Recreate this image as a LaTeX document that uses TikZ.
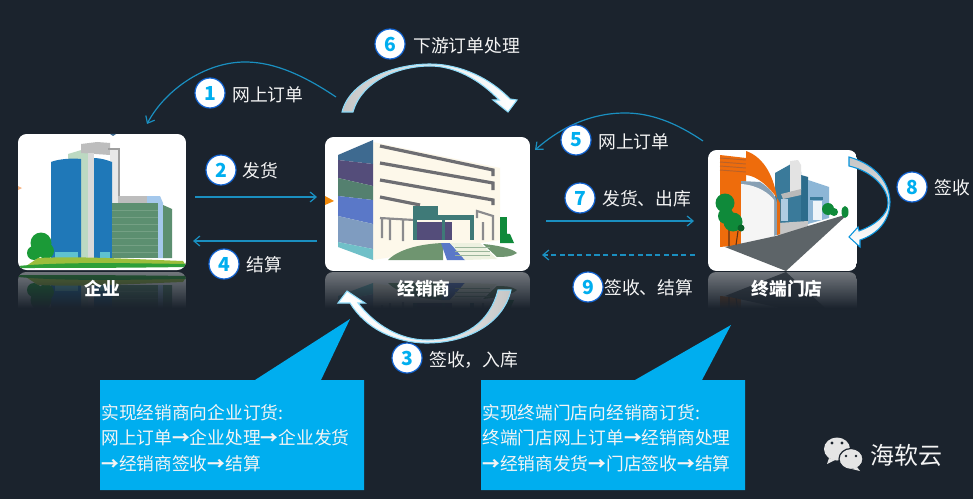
\documentclass[tikz,border=0pt]{standalone}
\usepackage{fontspec}
\setmainfont{Noto Sans CJK SC}
\usetikzlibrary{arrows.meta,calc}
\definecolor{bgc}{HTML}{1B232D}
\definecolor{linec}{HTML}{1A8FC0}
\definecolor{callc}{HTML}{00AEEF}
\definecolor{txtc}{HTML}{F4F4F4}
\newcommand{\rarr}{{\bfseries →}}
\tikzset{
  px/.style={x=0.75pt,y=-0.75pt},
  thin arrow/.style={draw=linec,line width=0.9pt,-{Straight Barb[length=4.5pt,width=7.5pt]}},
  badge/.style={circle,fill=white,draw=linec!70!blue,line width=0.9pt,minimum size=22.5pt,inner sep=0pt,text=callc,font=\bfseries\fontsize{14.5pt}{15pt}\selectfont},
  lab/.style={anchor=west,inner sep=0pt,text=txtc,font=\fontsize{13.35pt}{15pt}\selectfont},
  cardlab/.style={inner sep=0pt,text=white,font=\bfseries\fontsize{13.3pt}{15pt}\selectfont},
  callout/.style={fill=callc,draw=none},
  calltext/.style={anchor=north west,inner sep=0pt,align=left,text=txtc,font=\fontsize{13.3pt}{19.1pt}\selectfont},
  bigarrow/.style={draw=#1,line width=0.8pt,line join=miter},
}
% ---- building 1
\newcommand{\bldA}{%
  \fill[white] (18,134) rectangle (186,271);
  \fill[HTML3] (68,154) -- (88,148) -- (88,258) -- (68,258) -- cycle;
  \fill[HTML4] (81,144) -- (97,142) -- (110,143) -- (110,155) -- (81,153) -- cycle;
  \draw[draw=gray!75,line width=1pt] (108,149) -- (119,149) -- (119,203);
  \fill[gray!18] (110,150) rectangle (118,203);
  \fill[HTML1] (51,162) .. controls (58,159) and (72,158) .. (81,159) -- (81,258) -- (51,258) -- cycle;
  \fill[HTML2] (55,252) rectangle (78,258);
  \fill[gray!30] (88,153) rectangle (94,258);
  \fill[HTML1] (94,158) .. controls (100,158) and (107,160) .. (112,162) -- (112,258) -- (94,258) -- cycle;
  \fill[HTML2] (100,252) rectangle (110,258);
  \fill[HTML4] (118,196) rectangle (147,203);
  \fill[HTML5] (147,196) -- (160,196) -- (163,203) -- (163,258) -- (158,258) -- (158,203) -- (147,203) -- cycle;
  \fill[HTML6] (112,203) rectangle (158,258);
  \foreach \yy in {210,217,...,252}{\draw[HTML7,line width=0.6pt] (112,\yy) -- (158,\yy);}
  \fill[HTML6] (163,205) -- (172,209) -- (172,258) -- (163,258) -- cycle;
  \fill[HTML8] (41,243) circle[radius=10.5];
  \fill[HTML8] (34,253) circle[radius=7];
  \fill[HTML8] (46,251) circle[radius=8];
  \fill[HTML9] (26,266) -- (38,258) .. controls (80,256) and (130,259) .. (183,261) -- (186,266) -- cycle;
  \fill[HTML8!85!HTML9] (18,266) .. controls (60,262) and (120,263) .. (186,264) -- (186,267) .. controls (120,268) and (60,268) .. (18,268) -- cycle;
}
% ---- building 2
\newcommand{\bldB}{%
  \fill[white] (325,137) rectangle (530,271);
  \fill[cream] (373,142) -- (500,168) -- (500,240) -- (373,260) -- cycle;
  \fill[bandA] (338,155) -- (373,140) -- (373,164) -- (338,160) -- cycle;
  \fill[bandB] (338,160) -- (373,164) -- (373,186) -- (338,178) -- cycle;
  \fill[bandC] (338,178) -- (373,186) -- (373,200) -- (338,196) -- cycle;
  \fill[bandD] (338,196) -- (373,200) -- (373,224) -- (338,216) -- cycle;
  \fill[bandE] (338,216) -- (373,224) -- (373,249) -- (338,242) -- cycle;
  \fill[bandF] (338,242) -- (373,249) -- (373,260) -- (338,247) -- cycle;
  \draw[wallg,line width=2.4pt] (380,146) -- (493,170) -- (493,176);
  \draw[wallg,line width=2.4pt] (380,163) -- (493,183) -- (493,190);
  \draw[wallg,line width=2.4pt] (380,180) -- (493,200) -- (493,205);
  \draw[wallg,line width=2.4pt] (380,197) -- (420,205);
  \draw[wallg!80,line width=1.6pt] (380,218) -- (414,220) (390,218) -- (390,240) (403,219) -- (403,241) (382,218) -- (382,238);
  \draw[wallg!80,line width=1.6pt] (477,218) -- (477,211) -- (493,216) -- (493,240) (483,222) -- (483,240);
  \fill[bandB] (417,222) rectangle (452,240);
  \fill[tealb] (413,206) rectangle (438,217);
  \fill[tealb] (417,215) rectangle (474,220);
  \fill[tealb] (413,217) rectangle (417,240);
  \fill[tealb] (442,217) rectangle (445,240);
  \fill[tealb] (470,217) rectangle (474,240);
  \fill[groundg] (388,260) .. controls (398,250) and (418,244) .. (443,243) -- (443,260) -- cycle;
  \fill[groundg] (483,244) .. controls (495,245) and (512,248) .. (517,253) .. controls (512,257) and (503,257) .. (497,257) -- cycle;
  \fill[bandD] (441,243) -- (450,243) -- (465,260) -- (447,260) -- cycle;
  \fill[stair] (450,243) -- (480,243) -- (497,259) -- (465,260) -- cycle;
  \foreach \yy in {247,251,255}{\draw[groundg!70,line width=0.6pt] (455,\yy) -- (490,\yy);}
  \fill[treeg] (500,217) rectangle (507,240);
  \fill[treeg] (500,233) -- (510,234) -- (514,243) -- (500,243) -- cycle;
}
% ---- building 3
\newcommand{\bldC}{%
  \fill[white] (708,150) rectangle (857,271);
  \fill[orangeA] (720,155) -- (746,158) -- (746,185) -- (741,185) -- (741,245) -- (720,247) -- cycle;
  \foreach \yy in {158,162,166,170}{\draw[orangeB,line width=0.7pt] (720,\yy) -- (746,\yy+2);}
  % blue block
  \fill[blueA] (775,173) -- (791,164) -- (801,172) -- (801,222) -- (775,224) -- cycle;
  \fill[blueC] (801,175) -- (808,177) -- (808,224) -- (801,225) -- cycle;
  \fill[gray!22] (790,161) -- (798,160) -- (801,165) -- (801,190) -- (790,192) -- cycle;
  \fill[gray!55] (781,194) -- (801,189) -- (801,195) -- (783,199) -- cycle;
  \fill[blueB!70!white] (781,199) rectangle (788,221);
  % light-blue block
  \fill[blueB] (808,180) -- (829,187) -- (829,218) -- (808,224) -- cycle;
  \fill[blueA] (810,197) -- (823,197) -- (823,200) -- (810,200) -- cycle;
  \fill[white!85!blueB] (813,201) rectangle (822,220);
  \fill[gray!45] (778,223) -- (808,221) -- (808,226) -- (778,236) -- cycle;
  % door and arch
  \fill[blueB!60!gray] (741,181) -- (760,182) .. controls (770,188) and (776,196) .. (777,203) -- (777,235) -- (741,245) -- cycle;
  \fill[gray!8] (741,184) .. controls (758,185) and (770,194) .. (774,200) -- (774,236) -- (741,245) -- cycle;
  \fill[orangeA!80!orangeB] (777,198) -- (780,203) -- (780,234) -- (777,235) -- cycle;
  \fill[orangeA] (746,151) .. controls (761,156) and (773,172) .. (777,198) .. controls (770,188) and (758,176) .. (746,175) -- cycle;
  % road
  \fill[roadg] (725,247) -- (776,236) -- (808,226) -- (848,214) -- (786,271) -- cycle;
  % trees
  \draw[orangeB!50!black,line width=0.8pt] (729,230) -- (729,246) (738,231) -- (736,245);
  \fill[treeg] (725,203) circle[radius=9.5];
  \fill[treeg] (733,222) circle[radius=9.5];
  \fill[treeg] (726,216) circle[radius=8];
  \fill[treeg!70!black] (741,228) circle[radius=3.5];
  \fill[treeg] (828,209) circle[radius=6];
  \fill[treeg] (834,212) circle[radius=4];
  \fill[treeg] (845,212) ellipse[x radius=3.5,y radius=6];
}
\definecolor{HTML1}{HTML}{1F78B8}
\definecolor{HTML2}{HTML}{5FC2CF}
\definecolor{HTML3}{HTML}{BCD9C2}
\definecolor{HTML4}{HTML}{BDBDBD}
\definecolor{HTML5}{HTML}{A4C8EC}
\definecolor{HTML6}{HTML}{5C8F70}
\definecolor{HTML7}{HTML}{74A084}
\definecolor{HTML8}{HTML}{1B9A37}
\definecolor{HTML9}{HTML}{9CBE3C}
\definecolor{cream}{HTML}{FDF8EA}
\definecolor{bandA}{HTML}{3E6A90}
\definecolor{bandB}{HTML}{544D7A}
\definecolor{bandC}{HTML}{54806F}
\definecolor{bandD}{HTML}{5A78C8}
\definecolor{bandE}{HTML}{7F9CC0}
\definecolor{bandF}{HTML}{70C0C8}
\definecolor{wallg}{HTML}{6E6E72}
\definecolor{tealb}{HTML}{3F7A78}
\definecolor{groundg}{HTML}{6F9570}
\definecolor{stair}{HTML}{EDF1E0}
\definecolor{treeg}{HTML}{0F8A3A}
\definecolor{orangeA}{HTML}{EE6C0C}
\definecolor{orangeB}{HTML}{B9622A}
\definecolor{blueA}{HTML}{3A7A9A}
\definecolor{blueB}{HTML}{8DB6D6}
\definecolor{blueC}{HTML}{2C6C8C}
\definecolor{roadg}{HTML}{5D6468}
\begin{document}
\begin{tikzpicture}[px]
\useasboundingbox (0,0) rectangle (973,499);
\fill[bgc] (0,0) rectangle (973,499);

% ---- reflections
\begin{scope}
  \clip[rounded corners=6pt] (18,272) rectangle (186,320);
  \begin{scope}[shift={(0,543)},yscale=-1]\bldA\end{scope}
\end{scope}
\begin{scope}
  \clip[rounded corners=6pt] (325,272) rectangle (530,320);
  \begin{scope}[shift={(0,543)},yscale=-1]\bldB\end{scope}
\end{scope}
\begin{scope}
  \clip[rounded corners=6pt] (708,272) rectangle (857,320);
  \begin{scope}[shift={(0,543)},yscale=-1]\bldC\end{scope}
\end{scope}
\foreach \i in {0,...,38}{
  \pgfmathsetmacro{\op}{min(1,0.62+0.38*\i/36)}
  \fill[bgc,opacity=\op] (10,272+\i) rectangle (870,273+\i);
}
\fill[bgc] (10,310) rectangle (870,322);

% ---- cards
\begin{scope}
  \clip[rounded corners=6.5pt] (18,134) rectangle (186,270);
  \bldA
  \fill[orangeA!50] (18,186) -- (22,188) -- (18,190) -- cycle;
  \fill[bandA] (110,134) -- (116,134) -- (113,136) -- cycle;
\end{scope}
\begin{scope}
  \clip[rounded corners=6.5pt] (325,137) rectangle (530,271);
  \bldB
  \fill[orangeA!80!yellow] (325,196) -- (334,201) -- (325,205) -- cycle;
\end{scope}
\begin{scope}
  \clip[rounded corners=6.5pt] (708,150) rectangle (857,271);
  \bldC
\end{scope}
\node[minimum width=126pt,minimum height=102pt,inner sep=0pt] (qiye) at (102,202) {};
\node[minimum width=153.75pt,minimum height=100.5pt,inner sep=0pt] (jxs) at (427.5,204) {};
\node[minimum width=111.75pt,minimum height=90.75pt,inner sep=0pt] (md) at (782.5,210.5) {};

\node[cardlab] (lq) at (102,288) {企业};
\node[cardlab] (lj) at (424,289) {经销商};
\node[cardlab] (lm) at (787,289) {终端门店};

% ---- callouts
\fill[callout] (100,380) -- (255,380) -- (350,319) -- (321,380) -- (364,380) -- (364,490) -- (100,490) -- cycle;
\fill[callout] (481,380) -- (635,380) -- (731,325) -- (702,380) -- (745,380) -- (745,490) -- (481,490) -- cycle;
\node[calltext] (c1) at (101,404) {实现经销商向企业订货:\\网上订单\rarr 企业处理\rarr 企业发货\\\rarr 经销商签收\rarr 结算};
\node[calltext] (c2) at (482,404) {实现终端门店向经销商订货:\\终端门店网上订单\rarr 经销商处理\\\rarr 经销商发货\rarr 门店签收\rarr 结算};

% ---- thin connectors
\coordinate (a1s) at (336,97);  \coordinate (a1e) at (147,124);
\coordinate (a5s) at (703,141); \coordinate (a5e) at (535,150);
\coordinate (a2s) at (195,197); \coordinate (a2e) at (317,197);
\coordinate (a4s) at (317,241); \coordinate (a4e) at (193,241);
\coordinate (a7s) at (546,221); \coordinate (a7e) at (694,221);
\coordinate (a9s) at (695,255); \coordinate (a9e) at (542,255);
\draw[thin arrow] (a1s) .. controls (296,70) and (268,62) .. (245,62) .. controls (205,62) and (165,90) .. (a1e);
\draw[thin arrow] (a5s) .. controls (675,122) and (650,113) .. (625,113) .. controls (590,113) and (560,128) .. (a5e);
\draw[thin arrow] (a2s) -- (a2e);
\draw[thin arrow] (a4s) -- (a4e);
\draw[thin arrow] (a7s) -- (a7e);
\draw[thin arrow,dashed,dash pattern=on 4pt off 2.5pt] (a9s) -- (a9e);

% ---- big curved arrows
\path[bigarrow=cyan!45!white,left color=gray!45,right color=white,middle color=gray!15]
  (342,112) .. controls (350,80) and (395,64) .. (430,64) .. controls (460,64) and (490,78) .. (510,99)
  -- (517,100) -- (508,112) -- (493,100) -- (499,100) .. controls (480,80) and (455,66) .. (430,66)
  .. controls (400,66) and (362,80) .. (353,112) -- cycle;
\path[bigarrow=cyan!45!white,right color=gray!45,left color=white,middle color=gray!10]
  (511,290) .. controls (503,325) and (465,343) .. (427,343) .. controls (395,343) and (365,328) .. (350,303)
  -- (338,303) -- (347,291) -- (365,303) -- (358,303) .. controls (375,325) and (400,340) .. (427,340)
  .. controls (465,340) and (490,322) .. (498,290) -- cycle;
\path[bigarrow=cyan!80!blue,top color=gray!45,bottom color=white]
  (849,157) .. controls (878,165) and (890,185) .. (890,202) .. controls (890,220) and (878,234) .. (860,240)
  -- (860,247) -- (849,237) -- (858,227) -- (859,231) .. controls (875,225) and (888,215) .. (888,203)
  .. controls (888,190) and (875,172) .. (849,166) -- cycle;

% ---- badges
\node[badge] (n1) at (210,93) {1};
\node[badge] (n2) at (221,170) {2};
\node[badge] (n3) at (407,358) {3};
\node[badge] (n4) at (224,264) {4};
\node[badge] (n5) at (576,140) {5};
\node[badge] (n6) at (390,44) {6};
\node[badge] (n7) at (580,198) {7};
\node[badge] (n8) at (912,187) {8};
\node[badge] (n9) at (588,287) {9};

% ---- labels
\node[lab] (t1) at (232,95) {网上订单};
\node[lab] (t2) at (242,171) {发货};
\node[lab] (t3) at (429,360) {签收，入库};
\node[lab] (t4) at (246,265) {结算};
\node[lab] (t5) at (598,142) {网上订单};
\node[lab] (t6) at (413,46) {下游订单处理};
\node[lab] (t7) at (602,199) {发货、出库};
\node[lab] (t8) at (934,188) {签收};
\node[lab] (t9) at (604,288) {签收、结算};

% ---- WeChat mark
\fill[gray!20] (837,449) ellipse[x radius=13,y radius=11.5];
\fill[gray!20] (829,458) -- (827,464) -- (835,460) -- cycle;
\fill[gray!20,draw=bgc,line width=0.9pt] (851,459) ellipse[x radius=12,y radius=10.5];
\fill[gray!20] (857,467) -- (860,471) -- (852,469) -- cycle;
\fill[bgc] (832,443) circle[radius=1.6] (842,443) circle[radius=1.6] (846,456) circle[radius=1.4] (856,456) circle[radius=1.4];
\node[lab,font=\fontsize{18pt}{20pt}\selectfont] (brand) at (870,455) {海软云};
\end{tikzpicture}
\end{document}
